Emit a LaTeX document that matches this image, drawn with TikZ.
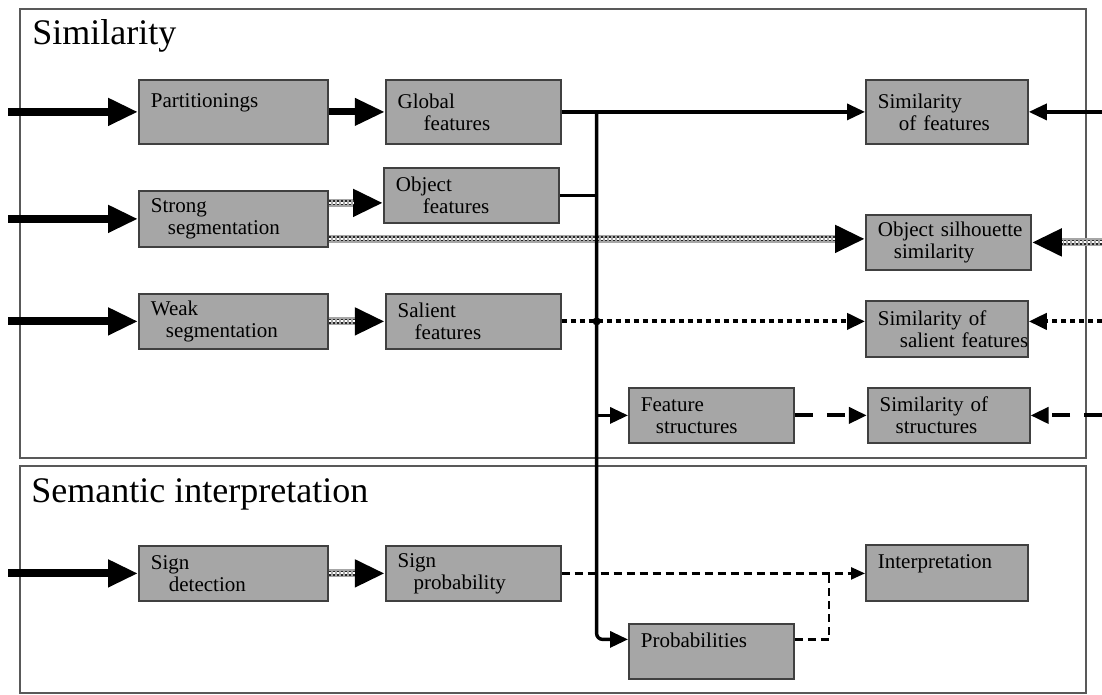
\documentclass[tikz,border=0pt]{standalone}
\usepackage{fontspec}
\setmainfont{Liberation Serif}
\usetikzlibrary{arrows.meta,positioning}

\newcommand{\boxfont}{\fontsize{10.5}{11}\selectfont}
\newcommand{\ttlfont}{\fontsize{18}{20}\selectfont}

\begin{document}
\begin{tikzpicture}[x=0.5pt, y=-0.5pt, node distance=28pt,
  blk/.style={draw=black!75, line width=0.9pt, fill=gray!70, font=\boxfont,
              align=left, inner xsep=6pt, inner ysep=2pt, anchor=north west},
  wa/.style={blk, text width=82.5pt},
  wb/.style={blk, text width=75.5pt},
  wc/.style={blk, text width=70.5pt},
  wd/.style={blk, text width=69pt},
  panel/.style={draw=black!65, line width=1pt},
  ttl/.style={font=\ttlfont, anchor=base west, inner sep=0pt},
  fat/.style={line width=4pt, -{Triangle[length=15pt, width=13pt]}},
  hatch/.style={line width=4pt, draw=gray!70, -{Triangle[length=15pt, width=13pt, color=black]},
                postaction={draw=black!85, double=white, double distance=1pt, line width=0.7pt,
                            dash pattern=on 1pt off 1pt, shorten >=15pt, -}},
  wire/.style={line width=1.7pt},
  wirearr/.style={wire, -{Triangle[length=9pt, width=8pt]}},
  dotarr/.style={line width=2pt, dash pattern=on 2.5pt off 2pt, -{Triangle[length=9pt, width=8pt]}},
  dasharr/.style={line width=2pt, dash pattern=on 9pt off 7pt, -{Triangle[length=9pt, width=8pt]}},
  thindash/.style={line width=1.2pt, dash pattern=on 4pt off 2.5pt}]
\useasboundingbox (0,0) rectangle (1102,695);

% the two panels
\draw[panel] (20,9) rectangle (1086,458);
\draw[panel] (20,466) rectangle (1086,693);
\node[ttl] (simttl) at (32,45) {Similarity};
\node[ttl] (semttl) at (31,502) {Semantic interpretation};

% first column
\node[wa, minimum height=32pt] (part) at (138,79) {Partitionings\\~};
\node[wa, minimum height=28pt] (strong) at (138,190) {Strong\\\hspace*{8.5pt}segmentation};
\node[wa, minimum height=27.5pt] (weak) at (138,293) {Weak\\\hspace*{7.5pt}segmentation};
\node[wa, minimum height=27.5pt] (signdet) at (138,545) {Sign\\\hspace*{9pt}detection};
% features
\node[wb, minimum height=32pt, right=of part] (glob) {Global\\\hspace*{13pt}features};
\node[wb, minimum height=27.5pt] (obj) at (383,167) {Object\\\hspace*{13.5pt}features};
\node[wb, minimum height=27.5pt, right=of weak] (sal) {Salient\\\hspace*{8.5pt}features};
\node[wb, minimum height=27.5pt, right=of signdet] (signprob) {Sign\\\hspace*{8pt}probability};
\node[wc, minimum height=27.5pt] (featstr) at (628,387) {Feature\\\hspace*{7.5pt}structures};
\node[wc, minimum height=27.5pt] (prob) at (628,623) {Probabilities\\~};
% similarities
\node[wd, minimum height=32pt] (simf) at (865,79) {Similarity\\\hspace*{10.5pt}of features};
\node[wc, minimum height=27.5pt] (sil) at (865,214) {\mbox{Object silhouette}\\\hspace*{8pt}similarity};
\node[wd, minimum height=28pt] (simsal) at (865,300) {Similarity of\\\hspace*{11pt}\mbox{salient features}};
\node[wd, minimum height=27.5pt, right=36pt of featstr] (simstr) {Similarity of\\\hspace*{8pt}structures};
\node[wd, minimum height=28pt] (interp) at (865,544) {Interpretation\\~};

\coordinate (lin) at (8,0);
\coordinate (rin) at (1102,0);
\coordinate (bus) at ([xshift=17.5pt]glob.east);

% inputs from both sides
\foreach \n in {part,strong,weak,signdet}
  \draw[fat] (lin |- \n.west) -- (\n.west);
\draw[wirearr] (rin |- simf.east) -- (simf.east);
\draw[hatch] (rin |- sil.east) -- (sil.east);
\draw[dotarr] (rin |- sal.east) -- (sal.east -| simsal.east);
\draw[dasharr] (rin |- simstr.east) -- (simstr.east);

% flow
\draw[fat, line width=3.5pt] (part) -- (glob);
\draw[hatch] ([yshift=8pt]strong.east) -- ([yshift=8pt]strong.east -| obj.west);
\draw[hatch] ([yshift=-10pt]strong.east) -- ([yshift=-10pt]strong.east -| sil.west);
\draw[hatch] (weak) -- (sal);
\draw[hatch] (signdet) -- (signprob);
\draw[wirearr] (glob) -- (simf);
\draw[wire] (obj.east) -- (obj.east -| bus);
\draw[dotarr] (sal.east) -- (sal.east -| simsal.west);
\draw[dasharr] (featstr) -- (simstr);
\draw[thindash, -{Triangle[length=7pt, width=6pt]}] (signprob.east) -- (signprob.east -| interp.west);
\draw[thindash] ([yshift=6pt]prob.east) -| ([xshift=-18pt]interp.west |- signprob.east);
\draw[wirearr, rounded corners=3pt] (bus) |- ([yshift=6pt]prob.west);
\draw[wirearr] (bus |- featstr.west) -- (featstr.west);
\fill (sal.east -| bus) circle (2pt);
\end{tikzpicture}
\end{document}
